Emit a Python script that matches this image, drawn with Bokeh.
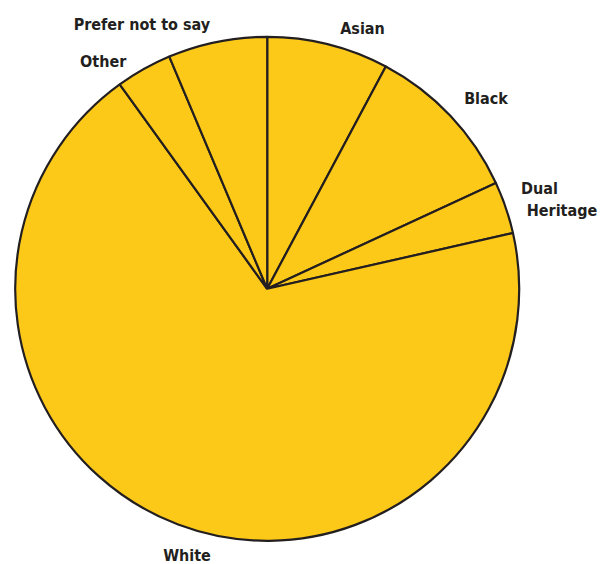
import numpy as np
from bokeh.plotting import figure
from bokeh.models import Range1d, ColumnDataSource
from bokeh.core.properties import value
from bokeh.embed import file_html
from bokeh.resources import INLINE

# Data (percent of respondents), clockwise from 12 o'clock
categories = ["Asian", "Black", "Dual Heritage", "White", "Other", "Prefer not to say"]
shares = [7.8, 10.3, 3.35, 68.6, 3.6, 6.35]

# Label text lines and their placement (layout only, screen pixels, cap-height centre)
label_texts = ["Asian", "Black", "Dual", "Heritage", "White", "Other", "Prefer not to say"]
label_x = [362, 485.5, 539, 561.5, 186.5, 102.7, 141.4]
label_y_screen = [28, 98, 188, 210, 555, 61, 23.5]

W, H = 611, 564
cx, cy_screen, R = 266.7, 288.3, 252

vals = np.array(shares, dtype=float)
frac = vals / vals.sum() * 2 * np.pi
cum = np.cumsum(frac)
start = np.pi / 2 - (cum - frac)
end = np.pi / 2 - cum

src = ColumnDataSource(dict(cat=categories, start=start, end=end,
                            x=[cx] * len(categories), y=[H - cy_screen] * len(categories)))

p = figure(width=W, height=H, output_backend="svg", toolbar_location=None,
           x_range=Range1d(0, W), y_range=Range1d(0, H), min_border=0)
p.axis.visible = False
p.grid.visible = False
p.outline_line_color = None
p.background_fill_color = "white"
p.border_fill_color = "white"

p.wedge(x="x", y="y", radius=R, start_angle="start", end_angle="end", direction="clock",
        fill_color="#fdc918", line_color="#231f20", line_width=2.2, source=src)

lsrc = ColumnDataSource(dict(x=label_x, y=[H - v for v in label_y_screen], t=label_texts))
p.text(x="x", y="y", text="t", source=lsrc, text_align="center", text_baseline="middle",
       text_font=value("DejaVu Sans Condensed"), text_font_style="bold",
       text_font_size="16px", text_color="#231f20")

open("out.html", "w").write(file_html(p, INLINE))
